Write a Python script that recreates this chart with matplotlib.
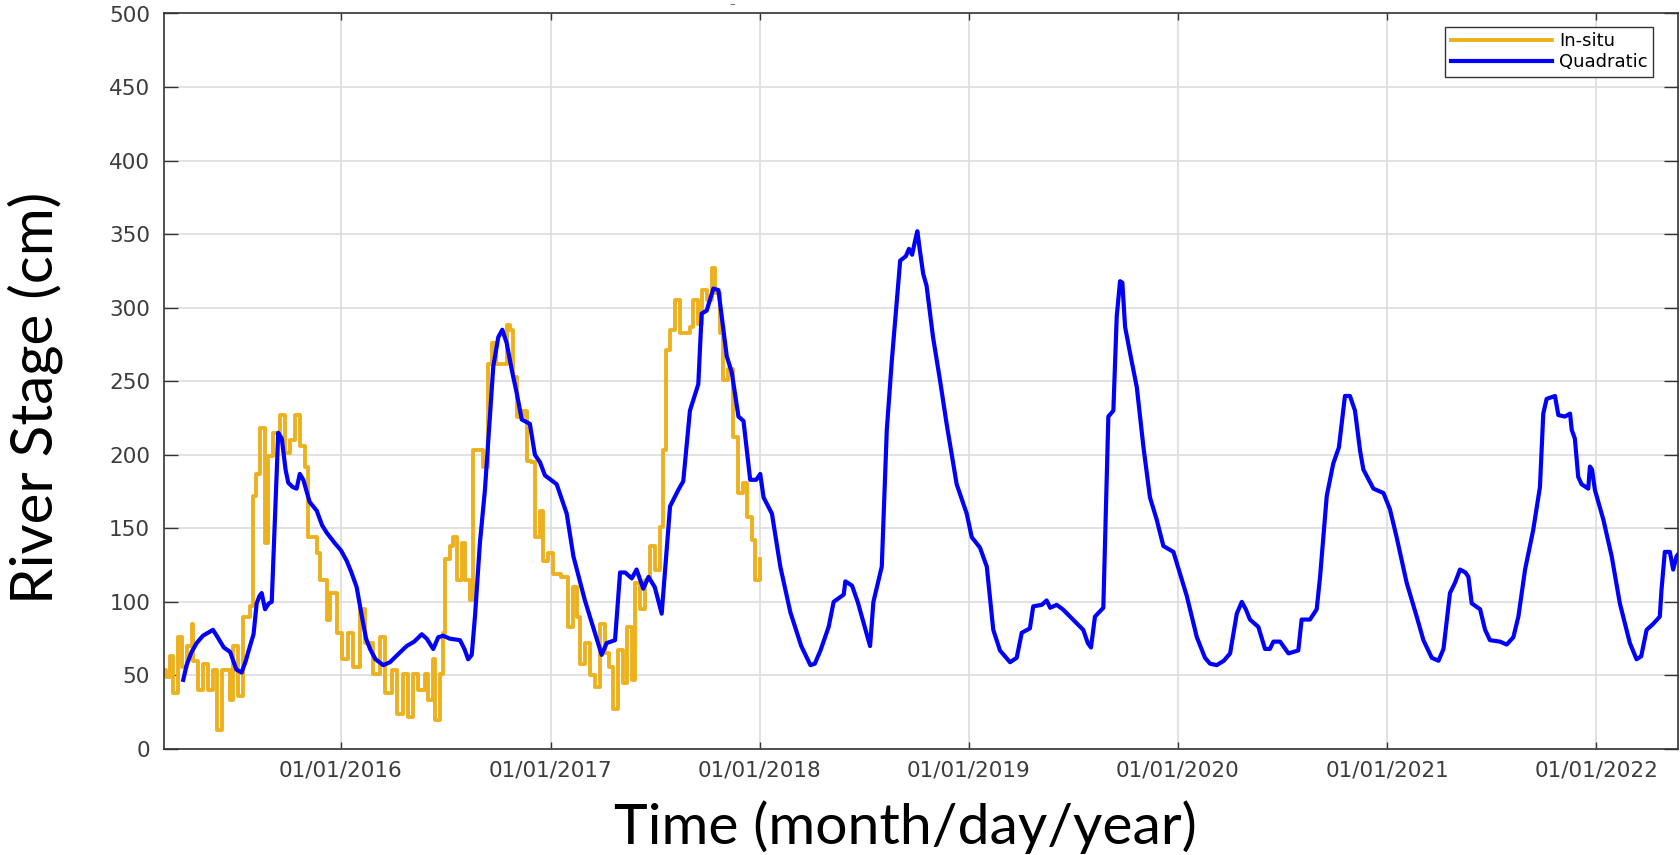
import matplotlib
matplotlib.use('Agg')
import matplotlib.pyplot as plt
import matplotlib.dates as mdates
import numpy as np
import pandas as pd

insitu_t = [2015.154, 2015.165, 2015.183, 2015.199, 2015.222, 2015.238, 2015.262, 2015.286, 2015.294,
            2015.318, 2015.342, 2015.366, 2015.390, 2015.405, 2015.430, 2015.469, 2015.485, 2015.509,
            2015.533, 2015.565, 2015.580, 2015.596, 2015.612, 2015.636, 2015.652, 2015.676, 2015.708,
            2015.732, 2015.756, 2015.780, 2015.804, 2015.828, 2015.844, 2015.884, 2015.900, 2015.932,
            2015.947, 2015.979, 2016.003, 2016.035, 2016.059, 2016.091, 2016.115, 2016.155, 2016.186,
            2016.210, 2016.242, 2016.266, 2016.298, 2016.322, 2016.346, 2016.370, 2016.400, 2016.417,
            2016.441, 2016.449, 2016.473, 2016.489, 2016.497, 2016.521, 2016.537, 2016.553, 2016.577,
            2016.593, 2016.617, 2016.632, 2016.664, 2016.680, 2016.704, 2016.720, 2016.740, 2016.760,
            2016.792, 2016.808, 2016.824, 2016.840, 2016.872, 2016.888, 2016.910, 2016.927, 2016.951,
            2016.967, 2016.990, 2017.015, 2017.050, 2017.087, 2017.110, 2017.130, 2017.142, 2017.166,
            2017.190, 2017.214, 2017.238, 2017.260, 2017.280, 2017.302, 2017.326, 2017.350, 2017.366,
            2017.390, 2017.405, 2017.429, 2017.453, 2017.477, 2017.501, 2017.525, 2017.541, 2017.553,
            2017.572, 2017.596, 2017.620, 2017.650, 2017.668, 2017.684, 2017.708, 2017.724, 2017.748,
            2017.772, 2017.788, 2017.811, 2017.827, 2017.851, 2017.875, 2017.899, 2017.923, 2017.939,
            2017.963, 2017.979, 2018.003]
insitu_v = [54, 49, 63, 38, 76, 56, 70, 85, 60,
            40, 58, 40, 54, 13, 54, 33, 70, 36,
            90, 97, 172, 187, 218, 140, 199, 215, 227,
            201, 210, 227, 206, 192, 144, 133, 115, 88,
            106, 79, 61, 79, 56, 95, 72, 51, 76,
            38, 54, 24, 51, 22, 51, 40, 51, 33,
            61, 20, 51, 79, 129, 138, 144, 115, 140,
            115, 101, 203, 203, 192, 262, 276, 262, 262,
            288, 285, 253, 226, 230, 196, 195, 144, 162,
            128, 133, 119, 117, 83, 110, 90, 58, 72,
            50, 42, 85, 65, 56, 27, 67, 45, 83,
            47, 113, 95, 115, 138, 122, 151, 203, 271,
            285, 305, 283, 283, 287, 305, 289, 312, 305,
            327, 310, 283, 251, 258, 212, 174, 181, 158,
            142, 115, 129]

quad_t = [2015.246, 2015.262, 2015.286, 2015.310, 2015.340, 2015.388, 2015.406, 2015.440, 2015.470,
          2015.500, 2015.525, 2015.545, 2015.565, 2015.582, 2015.597, 2015.610, 2015.621, 2015.637,
          2015.655, 2015.669, 2015.685, 2015.700, 2015.717, 2015.735, 2015.748, 2015.770, 2015.788,
          2015.803, 2015.820, 2015.850, 2015.884, 2015.910, 2015.932, 2015.970, 2016.000, 2016.027,
          2016.050, 2016.075, 2016.100, 2016.120, 2016.139, 2016.165, 2016.202, 2016.234, 2016.270,
          2016.314, 2016.350, 2016.386, 2016.410, 2016.441, 2016.465, 2016.489, 2016.520, 2016.569,
          2016.590, 2016.608, 2016.625, 2016.641, 2016.664, 2016.688, 2016.712, 2016.728, 2016.752,
          2016.771, 2016.792, 2016.816, 2016.840, 2016.864, 2016.903, 2016.927, 2016.951, 2016.975,
          2017.031, 2017.079, 2017.111, 2017.166, 2017.246, 2017.270, 2017.310, 2017.334, 2017.358,
          2017.390, 2017.413, 2017.445, 2017.470, 2017.500, 2017.533, 2017.573, 2017.612, 2017.636,
          2017.668, 2017.708, 2017.724, 2017.748, 2017.780, 2017.804, 2017.844, 2017.868, 2017.900,
          2017.924, 2017.956, 2017.985, 2018.004, 2018.020, 2018.060, 2018.100, 2018.148, 2018.200,
          2018.244, 2018.265, 2018.292, 2018.331, 2018.355, 2018.403, 2018.411, 2018.443, 2018.470,
          2018.529, 2018.545, 2018.585, 2018.609, 2018.633, 2018.673, 2018.700, 2018.715, 2018.730,
          2018.745, 2018.755, 2018.768, 2018.783, 2018.799, 2018.830, 2018.863, 2018.895, 2018.943,
          2018.991, 2019.015, 2019.054, 2019.087, 2019.118, 2019.150, 2019.198, 2019.230, 2019.254,
          2019.293, 2019.309, 2019.350, 2019.373, 2019.390, 2019.421, 2019.450, 2019.548, 2019.570,
          2019.585, 2019.604, 2019.644, 2019.668, 2019.692, 2019.708, 2019.724, 2019.735, 2019.748,
          2019.772, 2019.804, 2019.836, 2019.867, 2019.899, 2019.931, 2019.979, 2020.043, 2020.091,
          2020.130, 2020.154, 2020.186, 2020.220, 2020.250, 2020.282, 2020.306, 2020.325, 2020.345,
          2020.385, 2020.417, 2020.440, 2020.457, 2020.489, 2020.529, 2020.576, 2020.592, 2020.632,
          2020.664, 2020.680, 2020.712, 2020.743, 2020.770, 2020.799, 2020.823, 2020.847, 2020.871,
          2020.887, 2020.935, 2020.983, 2021.014, 2021.046, 2021.094, 2021.142, 2021.174, 2021.214,
          2021.246, 2021.270, 2021.301, 2021.325, 2021.349, 2021.375, 2021.389, 2021.405, 2021.445,
          2021.469, 2021.492, 2021.540, 2021.572, 2021.604, 2021.628, 2021.660, 2021.699, 2021.731,
          2021.747, 2021.763, 2021.803, 2021.819, 2021.850, 2021.875, 2021.883, 2021.898, 2021.914,
          2021.930, 2021.962, 2021.970, 2021.980, 2021.994, 2022.034, 2022.074, 2022.113, 2022.161,
          2022.193, 2022.215, 2022.241, 2022.272, 2022.304, 2022.312, 2022.328, 2022.352, 2022.368,
          2022.384, 2022.395]
quad_v = [47, 57, 66, 72, 77, 81, 77, 69, 66,
          54, 52, 60, 70, 78, 99, 104, 106, 95,
          99, 100, 160, 215, 211, 190, 181, 178, 177,
          187, 183, 168, 162, 152, 147, 140, 135, 128,
          120, 110, 90, 75, 68, 61, 57, 59, 64,
          70, 73, 78, 75, 68, 76, 77, 75, 74,
          68, 61, 64, 91, 140, 176, 226, 260, 280,
          285, 276, 258, 242, 224, 221, 200, 195, 186,
          180, 160, 131, 101, 64, 72, 74, 120, 120,
          116, 122, 109, 117, 110, 92, 165, 176, 182,
          230, 248, 296, 298, 313, 312, 267, 256, 226,
          223, 183, 183, 187, 171, 160, 124, 93, 70,
          57, 58, 67, 83, 100, 105, 114, 111, 100,
          70, 100, 124, 217, 264, 332, 335, 340, 336,
          346, 352, 338, 323, 315, 280, 251, 221, 180,
          160, 144, 137, 124, 81, 67, 59, 62, 79,
          82, 97, 98, 101, 96, 98, 95, 81, 72,
          69, 90, 96, 226, 230, 294, 318, 317, 287,
          269, 246, 205, 171, 156, 138, 134, 104, 76,
          62, 58, 57, 60, 65, 92, 100, 95, 88,
          83, 68, 68, 73, 73, 65, 67, 88, 88,
          95, 117, 172, 194, 205, 240, 240, 230, 203,
          190, 177, 174, 163, 144, 113, 90, 74, 62,
          60, 68, 106, 113, 122, 120, 117, 99, 95,
          81, 74, 73, 71, 76, 90, 122, 149, 178,
          228, 238, 240, 227, 226, 228, 217, 211, 185,
          180, 177, 192, 190, 176, 156, 131, 99, 72,
          61, 63, 81, 85, 90, 108, 134, 134, 122,
          131, 133]

x_start, x_end = 2015.154, 2022.391
tick_years = [2016, 2017, 2018, 2019, 2020, 2021, 2022]
y_ticks = list(range(0, 501, 50))


def to_date(years):
    years = np.asarray(years, dtype=float)
    return pd.Timestamp('2016-01-01') + pd.to_timedelta((years - 2016) * 365.25, unit='D')


W, H = 1681, 855
fig = plt.figure(figsize=(W / 100, H / 100), dpi=100)
ax = fig.add_axes([164 / W, 1 - 749 / H, 1514 / W, 735.5 / H])

ax.plot(to_date(insitu_t), insitu_v, color='#EDB120', lw=2.8, drawstyle='steps-post', label='In-situ', zorder=2)
ax.plot(to_date(quad_t), quad_v, color='#0000FF', lw=3.0, label='Quadratic', zorder=3)

ax.set_xlim(to_date([x_start])[0], to_date([x_end])[0])
ax.set_ylim(0, 500)
ax.set_yticks(y_ticks)
ax.set_xticks([pd.Timestamp(f'{y}-01-01') for y in tick_years])
ax.xaxis.set_major_formatter(mdates.DateFormatter('%m/%d/%Y'))

ax.grid(True, color='#dddddd', lw=1.2)
ax.set_axisbelow(True)
for s in ax.spines.values():
    s.set_color('#333333')
    s.set_linewidth(1.2)
ax.tick_params(axis='both', direction='in', top=True, right=True, colors='#333333',
               labelcolor='#3c3c3c', labelsize=15.5, width=1.0)
ax.tick_params(axis='y', length=10, pad=10)
ax.tick_params(axis='x', length=5, pad=8)

leg = ax.legend(loc='upper right', bbox_to_anchor=(0.9835, 0.9816), borderaxespad=0,
                fontsize=13, handlelength=5.6, handletextpad=0.4, fancybox=False,
                framealpha=1, edgecolor='#333333', borderpad=0.3, labelspacing=0.15)
leg.get_frame().set_linewidth(1.0)

fig.text(35 / W, 1 - 398 / H, 'River Stage (cm)', rotation=90, ha='center', va='center',
         fontsize=42, family='Lato', color='black')
fig.text(905 / W, 1 - 827 / H, 'Time (month/day/year)', ha='center', va='center',
         fontsize=41, family='Lato', color='black')
fig.text(732 / W, 1 - 4 / H, '–', ha='center', va='center', fontsize=8, color='#555555')

fig.savefig('out.png', dpi=100)
